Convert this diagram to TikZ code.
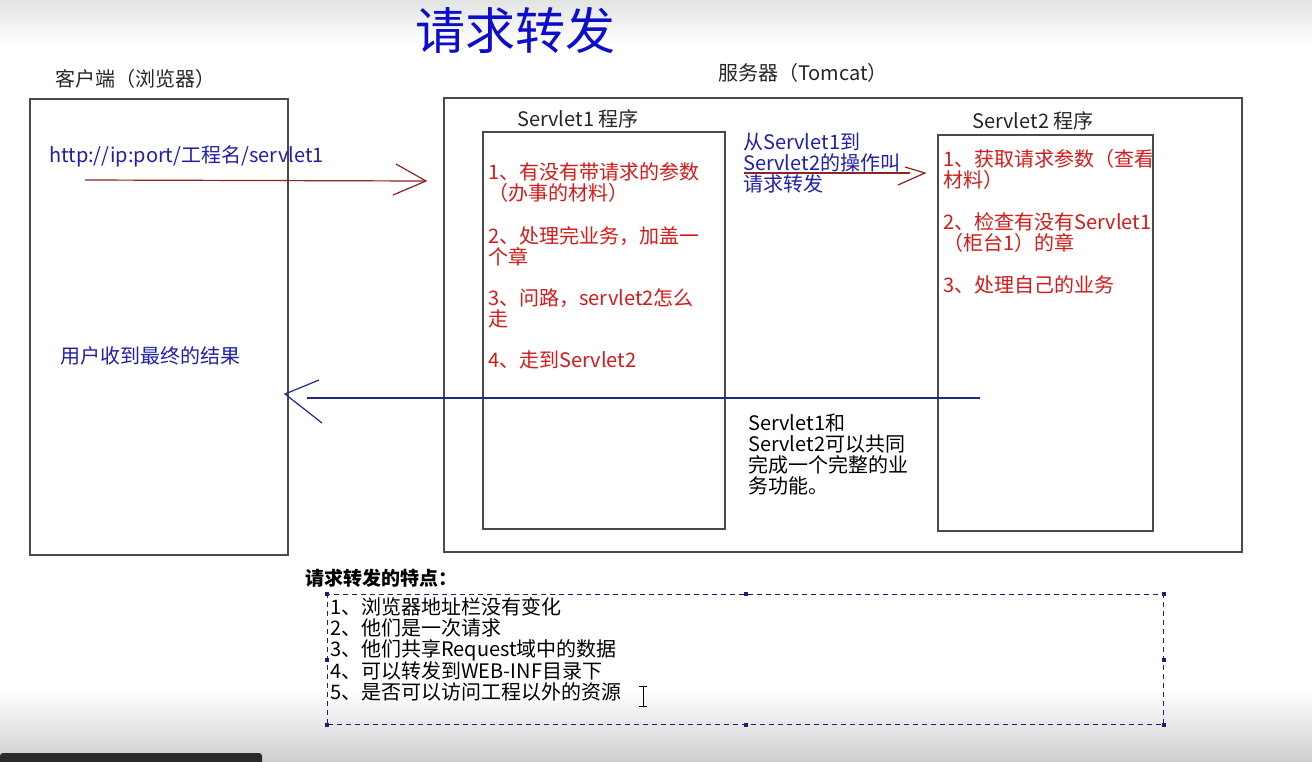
\documentclass[tikz,border=0pt]{standalone}
\usepackage{fontspec}
\setmainfont{Noto Sans CJK SC}
\newfontfamily\cjk{Noto Sans CJK SC}
\definecolor{redtxt}{HTML}{D41A1A}
\definecolor{darkred}{HTML}{8B2424}
\definecolor{bluetxt}{HTML}{2020A8}
\definecolor{titleblue}{HTML}{0C0CCC}
\definecolor{navy}{HTML}{1E2A8A}
\definecolor{boxgray}{HTML}{4A4A4A}
\definecolor{bgtop}{HTML}{E2E4E2}
\definecolor{bgbot}{HTML}{CFCFCF}
\begin{document}
\begin{tikzpicture}[x=1pt,y=-1pt,
  frame/.style={draw=boxgray, line width=1.6pt},
  body/.style={font=\cjk\fontsize{20}{21}\selectfont, inner sep=0pt, anchor=north west, align=left},
  head/.style={body, text=black!85},
  redtext/.style={body, text=redtxt},
  bluetext/.style={body, text=bluetxt},
  blacktext/.style={body, text=black},
  redarrow/.style={draw=darkred, line width=1.2pt},
  bluearrow/.style={draw=navy, line width=1.2pt},
  handle/.style={fill=navy!80!black, minimum size=4pt, inner sep=0pt},
]
\useasboundingbox (0,0) rectangle (1312,761);
% background
\fill[white] (0,0) rectangle (1312,761);
\shade[top color=bgtop, bottom color=white] (0,0) rectangle (1312,45);
\shade[top color=white, bottom color=bgbot] (0,690) rectangle (1312,761);
\fill[black!83, rounded corners=3pt] (0,753) -- (262,753) -- (262,770) -- (0,770) -- cycle;
\fill[black!83] (0,757) rectangle (262,761);

% title
\node[font=\cjk\fontsize{50}{50}\selectfont, text=titleblue, inner sep=0pt] (title) at (515,30) {请求转发};

% headings
\node[head, anchor=west] (clienthead) at (55,79) {客户端（浏览器）};
\node[head, anchor=west] (serverhead) at (718,73) {服务器（Tomcat）};
\node[head, anchor=west] (s1head) at (517,119) {Servlet1 程序};
\node[head, anchor=west] (s2head) at (972,121) {Servlet2 程序};

% boxes
\node[frame, minimum width=258pt, minimum height=456pt, inner sep=0pt, anchor=north west] (client) at (29,98) {};
\node[frame, minimum width=798pt, minimum height=454pt, inner sep=0pt, anchor=north west] (server) at (443,97) {};
\node[frame, minimum width=242pt, minimum height=397pt, inner sep=0pt, anchor=north west] (s1) at (482,131) {};
\node[frame, minimum width=215pt, minimum height=396pt, inner sep=0pt, anchor=north west] (s2) at (937,134) {};

% client texts
\node[bluetext, anchor=west] (url) at (49,156) {http://ip:port/工程名/servlet1};
\node[bluetext, anchor=west] (result) at (60,356) {用户收到最终的结果};

% servlet1 texts
\node[redtext] (s1a) at (488,162) {1、有没有带请求的参数\\（办事的材料）};
\node[redtext] (s1b) at (488,226) {2、处理完业务，加盖一\\个章};
\node[redtext] (s1c) at (488,288) {3、问路，servlet2怎么\\走};
\node[redtext] (s1d) at (488,351) {4、走到Servlet2};

% middle texts
\node[bluetext] (mid) at (743,133) {从Servlet1到\\Servlet2的操作叫\\请求转发};
\node[blacktext] (share) at (748,414) {Servlet1和\\Servlet2可以共同\\完成一个完整的业\\务功能。};

% servlet2 texts
\node[redtext] (s2a) at (943,149) {1、获取请求参数（查看\\材料）};
\node[redtext] (s2b) at (943,212) {2、检查有没有Servlet1\\（柜台1）的章};
\node[redtext] (s2c) at (943,275) {3、处理自己的业务};

% red request arrow (client -> servlet1)
\coordinate (r0) at (85,180);
\coordinate (r1) at (426,181);
\coordinate (r1a) at (396,164);
\coordinate (r1b) at (393,195);
\draw[redarrow] (r0) -- (r1);
\draw[redarrow] (r1a) -- (r1) -- (r1b);

% red forward arrow (servlet1 -> servlet2)
\coordinate (f0) at (744,173);
\coordinate (f1) at (910,173);
\coordinate (ft) at (925,173);
\coordinate (fa) at (905,167);
\coordinate (fb) at (898,185);
\draw[redarrow] (f0) -- (f1);
\draw[redarrow] (fa) -- (ft) -- (fb);

% blue response arrow (servlet2 -> client)
\coordinate (b0) at (980,398);
\coordinate (b1) at (307,398);
\coordinate (bt) at (285,394);
\coordinate (ba) at (319,380);
\coordinate (bb) at (322,423);
\draw[bluearrow] (b0) -- (b1);
\draw[bluearrow] (ba) -- (bt) -- (bb);

% features
\node[font=\cjk\bfseries\fontsize{19}{20}\selectfont, inner sep=0pt, anchor=west] (feathead) at (305,578) {请求转发的特点：};
\node[draw=navy!80!black, dashed, dash pattern=on 5pt off 4pt, line width=1pt, minimum width=836pt, minimum height=130pt, inner sep=0pt, anchor=north west] (feat) at (327,594) {};
\foreach \a in {north west, north, north east, west, east, south west, south, south east}
  \node[handle] at (feat.\a) {};
\node[blacktext] (featlist) at (330,597) {1、浏览器地址栏没有变化\\2、他们是一次请求\\3、他们共享Request域中的数据\\4、可以转发到WEB-INF目录下\\5、是否可以访问工程以外的资源};

% text cursor
\draw[black, line width=1pt] (643,686) -- (643,706);
\draw[black, line width=1pt] (639,686) -- (647,686) (639,706) -- (647,706);
\end{tikzpicture}
\end{document}
